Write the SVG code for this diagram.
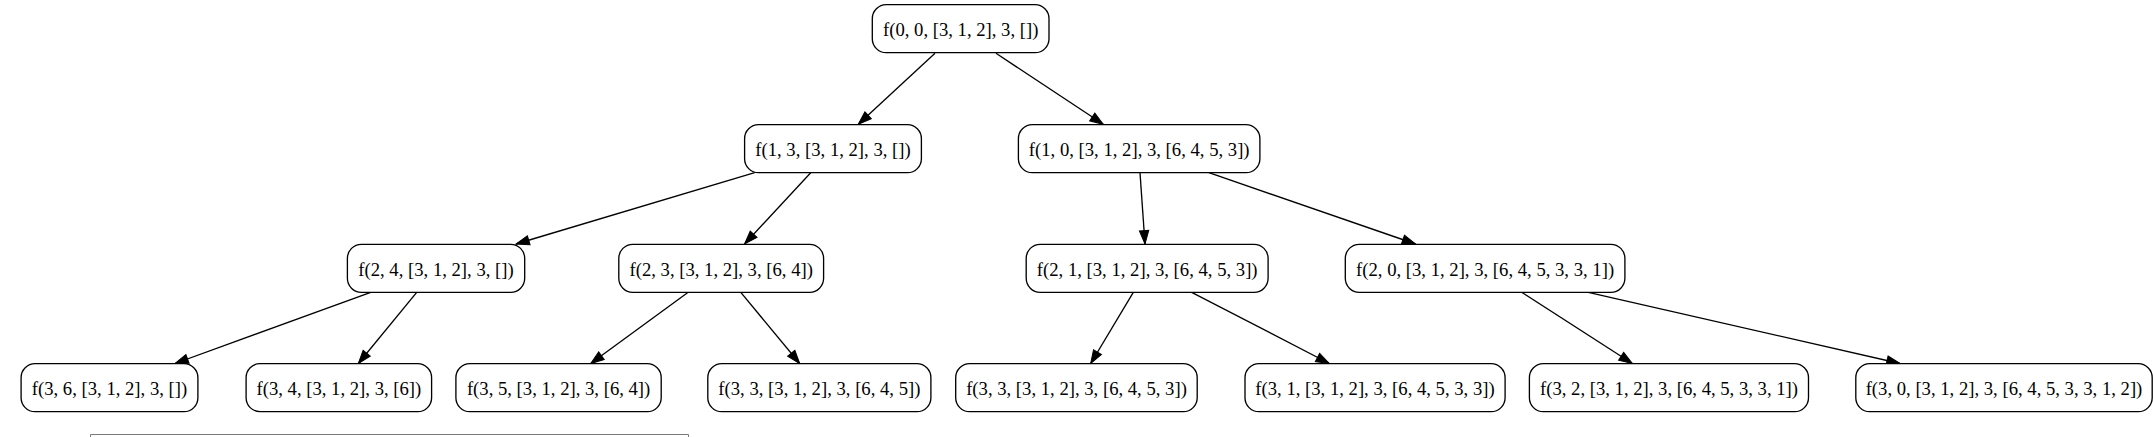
<svg xmlns="http://www.w3.org/2000/svg" width="2153" height="437" viewBox="0 0 2153 437">
<defs>
<style>
.node rect{fill:#ffffff;stroke:#000000;stroke-width:1.33}
.node text{font-family:"Liberation Serif","Times New Roman",serif;font-size:18.67px;fill:#000000;text-anchor:middle}
.edges line{stroke:#000000;stroke-width:1.33;marker-end:url(#arrow)}
</style>
<marker id="arrow" markerUnits="userSpaceOnUse" markerWidth="15" markerHeight="11" refX="13.3" refY="4.67" orient="auto" overflow="visible">
<path d="M0,0 L13.3,4.67 L0,9.33 z" fill="#000000" stroke="#000000" stroke-width="1"/>
</marker>
</defs>
<rect x="0" y="0" width="2153" height="437" fill="#ffffff"/>
<g id="edges" class="edges">
<line x1="935" y1="53.3" x2="858.3" y2="124.3"/>
<line x1="996" y1="53.3" x2="1103.3" y2="124.3"/>
<line x1="754.7" y1="172.7" x2="516" y2="244"/>
<line x1="810.7" y1="172.7" x2="744.6" y2="244"/>
<line x1="1140" y1="172.7" x2="1145" y2="244"/>
<line x1="1208.9" y1="172.7" x2="1415.5" y2="244"/>
<line x1="370.7" y1="292.3" x2="175" y2="363.5"/>
<line x1="416.7" y1="292.3" x2="358.3" y2="363.5"/>
<line x1="688.2" y1="292.3" x2="590.7" y2="363.5"/>
<line x1="740.8" y1="292.3" x2="799.7" y2="363.5"/>
<line x1="1133.3" y1="292.3" x2="1090.7" y2="363.5"/>
<line x1="1191.7" y1="292.3" x2="1329.3" y2="363.5"/>
<line x1="1521.7" y1="292.3" x2="1632.3" y2="363.5"/>
<line x1="1588.3" y1="292.3" x2="1900" y2="363.5"/>
</g>
<g id="n0" class="node"><rect x="872.3" y="4.7" width="176.7" height="48" rx="14"/><text x="960.7" y="36">f(0, 0, [3, 1, 2], 3, [])</text></g>
<g id="n1" class="node"><rect x="744.6" y="124.7" width="176.8" height="48" rx="14"/><text x="833" y="156">f(1, 3, [3, 1, 2], 3, [])</text></g>
<g id="n2" class="node"><rect x="1018.4" y="124.7" width="241.5" height="48" rx="14"/><text x="1139.2" y="156">f(1, 0, [3, 1, 2], 3, [6, 4, 5, 3])</text></g>
<g id="n3" class="node"><rect x="347.4" y="244.3" width="177.3" height="48" rx="14"/><text x="436" y="275.6">f(2, 4, [3, 1, 2], 3, [])</text></g>
<g id="n4" class="node"><rect x="618.8" y="244.3" width="204.8" height="48" rx="14"/><text x="721.2" y="275.6">f(2, 3, [3, 1, 2], 3, [6, 4])</text></g>
<g id="n5" class="node"><rect x="1026.2" y="244.3" width="241.9" height="48" rx="14"/><text x="1147.2" y="275.6">f(2, 1, [3, 1, 2], 3, [6, 4, 5, 3])</text></g>
<g id="n6" class="node"><rect x="1345.3" y="244.3" width="279.6" height="48" rx="14"/><text x="1485.1" y="275.6">f(2, 0, [3, 1, 2], 3, [6, 4, 5, 3, 3, 1])</text></g>
<g id="n7" class="node"><rect x="21.1" y="363.7" width="176.8" height="48" rx="14"/><text x="109.5" y="395">f(3, 6, [3, 1, 2], 3, [])</text></g>
<g id="n8" class="node"><rect x="246.1" y="363.7" width="185.5" height="48" rx="14"/><text x="338.9" y="395">f(3, 4, [3, 1, 2], 3, [6])</text></g>
<g id="n9" class="node"><rect x="455.9" y="363.7" width="205.3" height="48" rx="14"/><text x="558.6" y="395">f(3, 5, [3, 1, 2], 3, [6, 4])</text></g>
<g id="n10" class="node"><rect x="707.8" y="363.7" width="223.1" height="48" rx="14"/><text x="819.4" y="395">f(3, 3, [3, 1, 2], 3, [6, 4, 5])</text></g>
<g id="n11" class="node"><rect x="955.7" y="363.7" width="241.5" height="48" rx="14"/><text x="1076.5" y="395">f(3, 3, [3, 1, 2], 3, [6, 4, 5, 3])</text></g>
<g id="n12" class="node"><rect x="1245" y="363.7" width="260.1" height="48" rx="14"/><text x="1375" y="395">f(3, 1, [3, 1, 2], 3, [6, 4, 5, 3, 3])</text></g>
<g id="n13" class="node"><rect x="1529.4" y="363.7" width="279.1" height="48" rx="14"/><text x="1669" y="395">f(3, 2, [3, 1, 2], 3, [6, 4, 5, 3, 3, 1])</text></g>
<g id="n14" class="node"><rect x="1855.8" y="363.7" width="296.4" height="48" rx="14"/><text x="2004" y="395">f(3, 0, [3, 1, 2], 3, [6, 4, 5, 3, 3, 1, 2])</text></g>
<path d="M90.5,437 L90.5,434.5 L688.5,434.5 L688.5,437" fill="none" stroke="#7a7a7a" stroke-width="1"/>
</svg>
